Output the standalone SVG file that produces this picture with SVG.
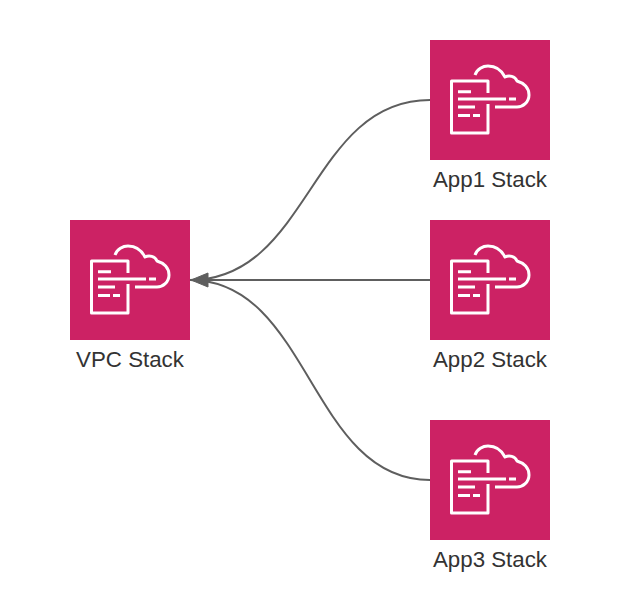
<svg xmlns="http://www.w3.org/2000/svg" width="620" height="610" viewBox="0 0 620 610">
<style>
.box{fill:#cc2264}
.ic{fill:none;stroke:#fff;stroke-width:3;stroke-linejoin:round}
.c{fill:none;stroke:#5e5e5e;stroke-width:2}
text{font-family:"Liberation Sans",Arial,sans-serif;font-size:22.3px;fill:#333;text-anchor:middle}
</style>
<defs>
<g id="icon">
<rect class="box" width="120" height="120"/>
<path class="ic" d="M58,53V41H21.500V93H58V64M28,51.700H41M28,59H76M79,59H86M28,67H45M28,75.500H40M43,75.500H50M45,35C47,29 53,26 58,26C66,26 72,31 75,37C79,35 85,36 87,41C94,43 99,48 99,55C99,62 93,67 87,67H65"/>
</g>
</defs>
<g id="connectors">
<path class="c" d="M430,100C310,100 310,280 190,280"/>
<path class="c" d="M430,280H200"/>
<path class="c" d="M430,480C310,480 310,280 190,280"/>
<path d="M191,280L208,273V287Z" fill="#5e5e5e" stroke="#5e5e5e" stroke-width="1"/>
</g>
<g id="vpc"><use href="#icon" x="70" y="220"/><text x="130" y="367">VPC Stack</text></g>
<g id="app1"><use href="#icon" x="430" y="40"/><text x="490" y="187">App1 Stack</text></g>
<g id="app2"><use href="#icon" x="430" y="220"/><text x="490" y="367">App2 Stack</text></g>
<g id="app3"><use href="#icon" x="430" y="420"/><text x="490" y="567">App3 Stack</text></g>
</svg>
